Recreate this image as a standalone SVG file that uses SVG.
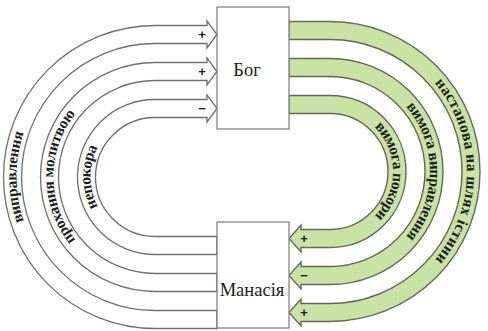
<svg xmlns="http://www.w3.org/2000/svg" width="488" height="331" viewBox="0 0 488 331">
<style>
.bandw{fill:#ffffff;stroke:#6f6f6f;stroke-width:1.3;stroke-linejoin:miter}
.bandg{fill:#c8e3a3;stroke:#66675c;stroke-width:1.4;stroke-linejoin:miter}
.guide{fill:none;stroke:none}
.lab{font-family:"Liberation Serif","Times New Roman",serif;font-weight:bold;font-size:15.5px;fill:#1c1c1c}
.sign{font-family:"Liberation Sans",Arial,sans-serif;font-weight:bold;font-size:13px;fill:#1c1c1c;text-anchor:middle}
.box{fill:#ffffff;stroke:#7a7a7a;stroke-width:1.2}
.name{font-family:"Liberation Serif","Times New Roman",serif;font-size:18.5px;fill:#1c1c1c;text-anchor:middle}
</style>
<defs>
<path id="tL1" class="guide" d="M217,319.5 H155 A142.5,142.5 0 0 1 155,34.5 H217"/>
<path id="tL2" class="guide" d="M217,282.5 H155 A105.5,105.5 0 0 1 155,71.5 H217"/>
<path id="tL3" class="guide" d="M217,245.5 H155 A68.5,68.5 0 0 1 155,108.5 H217"/>
<path id="tR1" class="guide" d="M289,30.5 H330 A141,141 0 0 1 330,312.5 H289"/>
<path id="tR2" class="guide" d="M289,67.5 H330 A104,104 0 0 1 330,275.5 H289"/>
<path id="tR3" class="guide" d="M289,104.5 H330 A67,67 0 0 1 330,238.5 H289"/>
</defs>
<g id="connectors">
<g id="c-vypravlennia">
<path class="bandw" d="M217,328.5 H155 A151.5,151.5 0 0 1 155,25.5 H207 L207,21 L217,34.5 L207,48 L207,43.5 H155 A133.5,133.5 0 0 0 155,310.5 H217 Z"/>
<text class="lab" dy="4"><textPath href="#tL1" startOffset="50%" text-anchor="middle">виправлення</textPath></text>
<text class="sign" x="202" y="39">+</text>
</g>
<g id="c-prokhannia">
<path class="bandw" d="M217,291.5 H155 A114.5,114.5 0 0 1 155,62.5 H207 L207,58 L217,71.5 L207,85 L207,80.5 H155 A96.5,96.5 0 0 0 155,273.5 H217 Z"/>
<text class="lab" dy="4"><textPath href="#tL2" startOffset="50%" text-anchor="middle">прохання молитвою</textPath></text>
<text class="sign" x="202" y="76">+</text>
</g>
<g id="c-nepokora">
<path class="bandw" d="M217,254.5 H155 A77.5,77.5 0 0 1 155,99.5 H207 L207,95 L217,108.5 L207,122 L207,117.5 H155 A59.5,59.5 0 0 0 155,236.5 H217 Z"/>
<text class="lab" dy="4"><textPath href="#tL3" startOffset="50%" text-anchor="middle">непокора</textPath></text>
<text class="sign" x="202" y="113">−</text>
</g>
<g id="c-nastanova">
<path class="bandg" d="M289,21.5 H330 A150,150 0 0 1 330,321.5 H301 L301,326 L289,312.5 L301,299 L301,303.5 H330 A132,132 0 0 0 330,39.5 H289 Z"/>
<text class="lab" dy="4" letter-spacing="0.6"><textPath href="#tR1" startOffset="50%" text-anchor="middle">настанова на шлях істини</textPath></text>
<text class="sign" x="304" y="317">+</text>
</g>
<g id="c-vymoha-vypravlennia">
<path class="bandg" d="M289,58.5 H330 A113,113 0 0 1 330,284.5 H301 L301,289 L289,275.5 L301,262 L301,266.5 H330 A95,95 0 0 0 330,76.5 H289 Z"/>
<text class="lab" dy="4"><textPath href="#tR2" startOffset="50%" text-anchor="middle">вимога виправлення</textPath></text>
<text class="sign" x="304" y="280">−</text>
</g>
<g id="c-vymoha-pokory">
<path class="bandg" d="M289,95.5 H330 A76,76 0 0 1 330,247.5 H301 L301,252 L289,238.5 L301,225 L301,229.5 H330 A58,58 0 0 0 330,113.5 H289 Z"/>
<text class="lab" dy="4"><textPath href="#tR3" startOffset="50%" text-anchor="middle">вимога покори</textPath></text>
<text class="sign" x="304" y="243">+</text>
</g>
</g>
<g id="node-bog">
<rect class="box" x="217" y="7" width="72" height="122"/>
<text class="name" x="247" y="76">Бог</text>
</g>
<g id="node-manasia">
<rect class="box" x="217" y="222" width="72" height="106"/>
<text class="name" x="252" y="296">Манасія</text>
</g>
</svg>
